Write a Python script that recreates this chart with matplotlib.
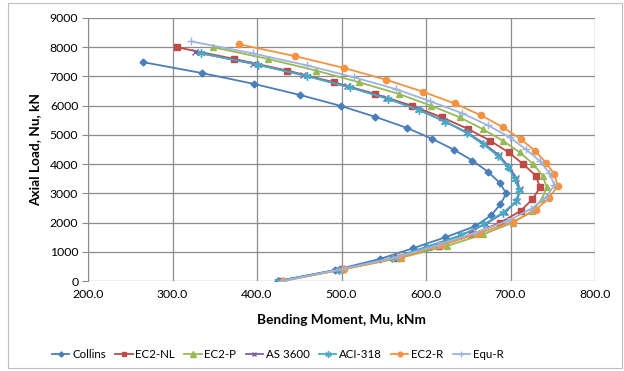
import matplotlib
matplotlib.use("Agg")
import matplotlib.pyplot as plt
from matplotlib.patches import Rectangle

plt.rcParams['font.family'] = ['Lato', 'DejaVu Sans']

# ---- data (Mu in kNm, Nu in kN) ----
collins_M = [265, 335, 397, 451, 499, 540, 577, 607, 633, 655, 673, 687, 695, 688, 677, 658, 623, 585, 545, 492, 425]
collins_N = [7490, 7115, 6741, 6366, 5992, 5617, 5243, 4868, 4494, 4119, 3745, 3370, 2996, 2621, 2247, 1872, 1498, 1123, 749, 374, 0]

ec2nl_M = [305, 373, 436, 491, 540, 583, 619, 650, 676, 698, 715, 730, 735, 726, 712, 688, 655, 615, 566, 500, 428]
ec2nl_N = [8000, 7600, 7200, 6800, 6400, 6000, 5600, 5200, 4800, 4400, 4000, 3600, 3200, 2800, 2400, 2000, 1600, 1200, 800, 400, 0]

ec2p_M = [348, 413, 470, 521, 568, 606, 640, 667, 691, 711, 727, 738, 743, 737, 726, 703, 668, 625, 571, 502, 430]
ec2p_N = [8000, 7600, 7200, 6800, 6400, 6000, 5600, 5200, 4800, 4400, 4000, 3600, 3200, 2800, 2400, 2000, 1600, 1200, 800, 400, 0]

as3600_M = [327, 395, 455, 507, 553, 590, 621, 648, 669, 686, 698, 707, 711, 708, 693, 671, 642, 602, 561, 498, 427]
as3600_N = [7830, 7439, 7047, 6656, 6264, 5873, 5481, 5090, 4698, 4307, 3915, 3524, 3132, 2741, 2349, 1958, 1566, 1175, 783, 392, 0]

aci_M = [334, 401, 459, 510, 555, 592, 623, 648, 668, 685, 697, 705, 710, 707, 691, 669, 641, 601, 560, 497, 425]
aci_N = [7790, 7401, 7011, 6622, 6232, 5843, 5453, 5064, 4674, 4285, 3895, 3506, 3116, 2726, 2337, 1947, 1558, 1168, 779, 389, 0]

ec2r_M = [379, 445, 503, 553, 596, 634, 665, 691, 712, 729, 742, 752, 756, 745, 730, 703, 661, 618, 570, 503, 431]
ec2r_N = [8100, 7695, 7290, 6885, 6480, 6075, 5670, 5265, 4860, 4455, 4050, 3645, 3240, 2835, 2430, 2025, 1620, 1215, 810, 405, 0]

equr_M = [322, 395, 459, 515, 565, 605, 643, 673, 699, 718, 735, 746, 752, 742, 724, 696, 657, 614, 566, 501, 430]
equr_N = [8200, 7790, 7380, 6970, 6560, 6150, 5740, 5330, 4920, 4510, 4100, 3690, 3280, 2870, 2460, 2050, 1640, 1230, 820, 410, 0]

series = [
    ("Collins", collins_M, collins_N, "#4A7EBB", "D", 3.5),
    ("EC2-NL", ec2nl_M, ec2nl_N, "#BE4B48", "s", 4.5),
    ("EC2-P", ec2p_M, ec2p_N, "#98B954", "^", 5),
    ("AS 3600", as3600_M, as3600_N, "#7D60A0", "x", 4.5),
    ("ACI-318", aci_M, aci_N, "#46AAC5", (6, 2, 0), 6),
    ("EC2-R", ec2r_M, ec2r_N, "#F69240", "o", 4.5),
    ("Equ-R", equr_M, equr_N, "#9DB4DF", "+", 6),
]

x_ticks = [200, 300, 400, 500, 600, 700, 800]
y_ticks = [0, 1000, 2000, 3000, 4000, 5000, 6000, 7000, 8000, 9000]

fig = plt.figure(figsize=(6.24, 3.71), dpi=100)
fig.patches.append(Rectangle((8/624, 3/371), 614/624, 365/371, transform=fig.transFigure,
                             fill=False, edgecolor="#BFBFBF", linewidth=0.8))
ax = fig.add_axes([88/624, 1 - 281/371, (595-88)/624, (281-18)/371])

for name, M, N, c, mk, ms in series:
    ax.plot(M, N, color=c, marker=mk, markersize=ms, linewidth=1.3, label=name,
            markeredgecolor=c, markerfacecolor=c, markeredgewidth=1.0)

ax.set_xlim(200, 800)
ax.set_ylim(0, 9000)
ax.set_xticks(x_ticks)
ax.set_yticks(y_ticks)
ax.set_xticklabels([f"{v:.1f}" for v in x_ticks])
ax.set_yticklabels([str(v) for v in y_ticks])
ax.grid(True, color="#8C8C8C", linewidth=0.9)
ax.set_axisbelow(True)
for s in ["top", "right", "bottom"]:
    ax.spines[s].set_visible(False)
ax.spines["left"].set_color("#8C8C8C")
ax.tick_params(axis="x", length=0, labelsize=8.8, pad=6, colors="#000000")
ax.tick_params(axis="y", length=4, color="#8C8C8C", labelsize=8.8, pad=3)

ax.set_xlabel("Bending Moment, Mu, kNm", fontsize=9.8, fontweight="bold", labelpad=10)
ax.set_ylabel("Axial Load, Nu, kN", fontsize=9.8, fontweight="bold", labelpad=6)

leg = fig.legend(loc="center left", bbox_to_anchor=(44/624, 1 - 355/371), ncol=7,
                 frameon=False, fontsize=8.3, handlelength=1.5, handletextpad=0.25,
                 columnspacing=0.8, markerscale=0.75, borderpad=0.2)

fig.savefig("out.png", dpi=100)
